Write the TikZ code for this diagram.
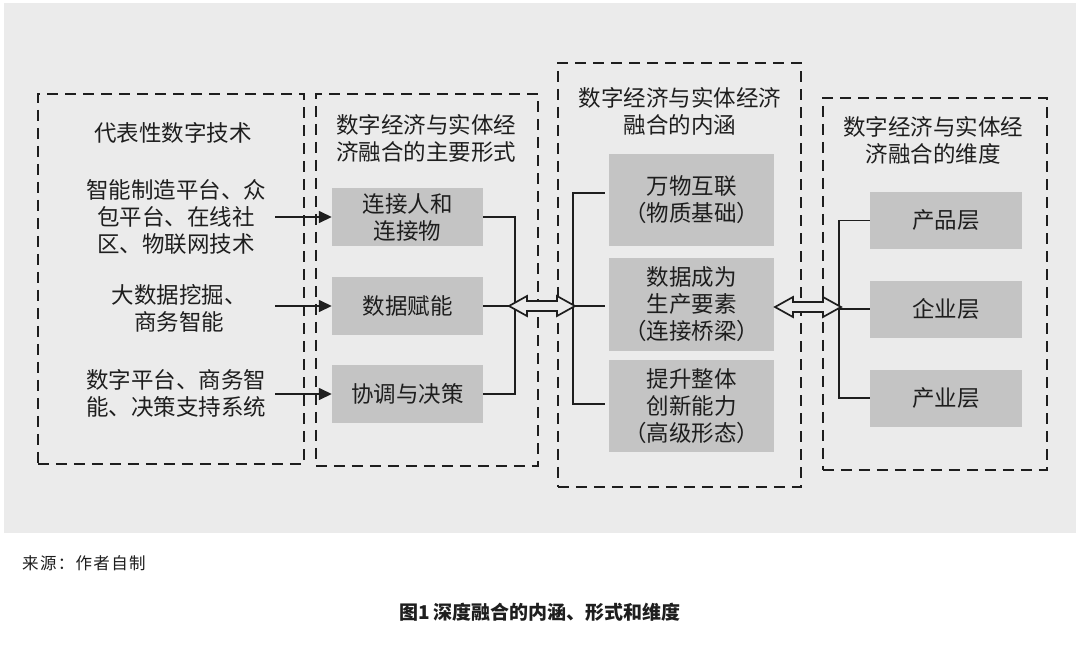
\documentclass[tikz,border=0pt]{standalone}
\usepackage{fontspec}
\setmainfont{Noto Sans CJK SC}
\newfontfamily\srcfont[LetterSpace=8]{Noto Sans CJK SC}
\usetikzlibrary{calc,arrows.meta}
\definecolor{bg}{HTML}{EBEBEB}
\definecolor{boxgray}{HTML}{C4C4C4}
\definecolor{ink}{HTML}{1E1E1E}
\tikzset{
  dbox/.style={draw=ink, line width=1.8pt, dash pattern=on 11pt off 7pt, anchor=north west, inner sep=0},
  gbox/.style={fill=boxgray, text=ink, align=center, inner sep=0, font=\fontsize{22.5}{27}\selectfont},
  lbl/.style={text=ink, align=center, inner sep=0, font=\fontsize{22.5}{27}\selectfont},
  conn/.style={draw=ink, line width=1.5pt},
  inarrow/.style={conn, -{Triangle[length=13pt,width=12pt]}},
  dblarrow/.style={draw=ink, line width=1.7pt, line join=miter}
}
\begin{document}
\begin{tikzpicture}[x=1pt,y=-1pt]
\useasboundingbox (0,0) rectangle (1080,649);
\fill[white] (0,0) rectangle (1080,649);
\fill[bg] (4,3) rectangle (1076,533);

% dashed frames
\node[dbox, minimum width=266, minimum height=370] (F1) at (37,93) {};
\node[dbox, minimum width=222, minimum height=372] (F2) at (315,93) {};
\node[dbox, minimum width=243, minimum height=424] (F3) at (557,62) {};
\node[dbox, minimum width=224, minimum height=372] (F4) at (822,97) {};

% titles
\node[lbl] (t1) at (173,133) {代表性数字技术};
\node[lbl] (t2) at (426,138.5) {数字经济与实体经\\济融合的主要形式};
\node[lbl] (t3) at (680,111) {数字经济与实体经济\\融合的内涵};
\node[lbl] (t4) at (933,140) {数字经济与实体经\\济融合的维度};

% left texts
\node[lbl] (l1) at (176,217) {智能制造平台、众\\包平台、在线社\\区、物联网技术};
\node[lbl] (l2) at (179,308) {大数据挖掘、\\商务智能};
\node[lbl] (l3) at (176,393.5) {数字平台、商务智\\能、决策支持系统};

% column 2 boxes
\node[gbox, minimum width=151, minimum height=58] (g1) at (407.5,217) {连接人和\\连接物};
\node[gbox, minimum width=151, minimum height=58] (g2) at (407.5,306) {数据赋能};
\node[gbox, minimum width=151, minimum height=58] (g3) at (407.5,394) {协调与决策};

% column 3 boxes
\node[gbox, minimum width=165, minimum height=92] (m1) at (691.5,200) {万物互联\\（物质基础）};
\node[gbox, minimum width=165, minimum height=93] (m2) at (691.5,304.5) {数据成为\\生产要素\\（连接桥梁）};
\node[gbox, minimum width=165, minimum height=92] (m3) at (691.5,406) {提升整体\\创新能力\\（高级形态）};

% column 4 boxes
\node[gbox, minimum width=152, minimum height=57] (r1) at (946,220.5) {产品层};
\node[gbox, minimum width=152, minimum height=57] (r2) at (946,309) {企业层};
\node[gbox, minimum width=152, minimum height=57] (r3) at (946,398) {产业层};

% input arrows
\coordinate (s1) at (275,217);
\coordinate (s2) at (275,306);
\coordinate (s3) at (275,394);
\draw[inarrow] (s1) -- (g1.west);
\draw[inarrow] (s2) -- (g2.west);
\draw[inarrow] (s3) -- (g3.west);

% bus of column 2
\draw[conn] (g1.east) -- ++(32,0) |- (g3.east);
\draw[conn] (g2.east) -- ++(32,0);

% bus of column 3
\coordinate (m1c) at ($(m1.west)+(-4,-7)$);
\coordinate (m2c) at ($(m2.west)+(-4,1.5)$);
\coordinate (m3c) at ($(m3.west)+(-4,-2)$);
\draw[conn] (m1c) -- ++(-32,0) |- (m3c);
\draw[conn] (m2c) -- ++(-32,0);

% bus of column 4
\draw[conn] (r1.west) -- ++(-31,0) |- (r3.west);
\draw[conn] (r2.west) -- ++(-31,0);

% double arrows
\coordinate (aL) at (509,306);
\coordinate (aR) at (775,307);
\draw[dblarrow, fill=bg] (aL) -- ++(18,-10) -- ++(0,5) -- ++(30,0) -- ++(0,-5) -- ++(18,10)
  -- ++(-18,10) -- ++(0,-5) -- ++(-30,0) -- ++(0,5) -- cycle;
\draw[dblarrow, fill=bg] (aR) -- ++(18,-10) -- ++(0,5) -- ++(30,0) -- ++(0,-5) -- ++(18,10)
  -- ++(-18,10) -- ++(0,-5) -- ++(-30,0) -- ++(0,5) -- cycle;

% captions
\node[anchor=west, inner sep=0, text=ink, font=\srcfont\fontsize{16.5}{18}\selectfont] (src) at (22,563) {来源：作者自制};
\node[inner sep=0, text=ink, font=\bfseries\fontsize{19}{22}\selectfont] (cap) at (540,612) {图1 深度融合的内涵、形式和维度};
\end{tikzpicture}
\end{document}
